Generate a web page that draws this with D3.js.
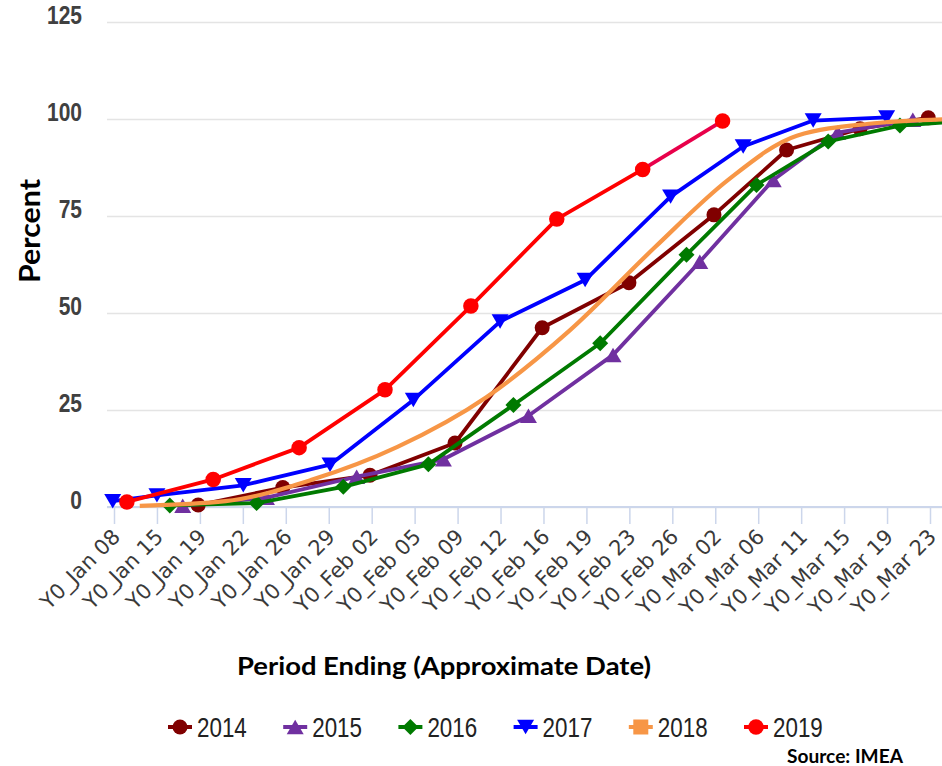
<!DOCTYPE html>
<html><head><meta charset="utf-8">
<script src="https://cdn.jsdelivr.net/npm/d3@7"></script>
<style>body{margin:0;background:#fff}svg{display:block}</style>
</head><body>
<svg id="c" width="942" height="766"></svg>
<script>
// ---------- data ----------
const categories = ["Y0_Jan 08","Y0_Jan 15","Y0_Jan 19","Y0_Jan 22","Y0_Jan 26","Y0_Jan 29",
  "Y0_Feb 02","Y0_Feb 05","Y0_Feb 09","Y0_Feb 12","Y0_Feb 16","Y0_Feb 19","Y0_Feb 23",
  "Y0_Feb 26","Y0_Mar 02","Y0_Mar 06","Y0_Mar 11","Y0_Mar 15","Y0_Mar 19","Y0_Mar 23"];
const yTicks = [0, 25, 50, 75, 100, 125];
const years = ["2014","2015","2016","2017","2018","2019"];

// x positions are in category-slot units (0 = first label)
const x2014 = [1.96, 3.93, 5.96, 7.94, 9.97, 11.99, 13.97, 15.66, 17.37, 18.96];
const v2014 = [0.5, 5.0, 8.2, 16.5, 46.2, 57.8, 75.3, 92.0, 97.5, 100.3];
const x2015 = [1.6, 3.55, 5.65, 7.67, 9.65, 11.62, 13.64, 15.35, 16.85, 18.6];
const v2015 = [0.3, 2.4, 7.8, 12.3, 23.5, 39.2, 63.2, 84.3, 96.5, 99.8];
const x2016 = [1.3, 3.32, 5.34, 7.32, 9.3, 11.32, 13.33, 14.96, 16.63, 18.3, 19.97];
const v2016 = [0.4, 1.0, 5.2, 11.0, 26.3, 42.2, 65.0, 83.0, 94.2, 98.3, 99.6];
const x2017 = [-0.03, 1.0, 3.01, 5.03, 6.97, 8.99, 10.97, 12.96, 14.65, 16.28, 17.99];
const v2017 = [1.5, 3.0, 5.6, 10.9, 27.6, 47.8, 58.5, 80.0, 92.9, 99.6, 100.4];
const x2018 = [0.6, 2.6, 4.6, 6.6, 8.67, 10.6, 12.6, 14.3, 15.9, 17.7, 19.5];
const v2018 = [0.3, 1.5, 7.0, 15.5, 28.3, 45.4, 67.0, 84.3, 95.7, 98.9, 100.0];
const x2019 = [0.3, 2.31, 4.31, 6.31, 8.31, 10.31, 12.31, 14.17];
const v2019 = [1.3, 7.1, 15.3, 30.2, 51.8, 74.2, 87.0, 99.5];

const seriesX = [x2014, x2015, x2016, x2017, x2018, x2019];
const seriesV = [v2014, v2015, v2016, v2017, v2018, v2019];
const colors = ["#800000", "#7030a0", "#007a00", "#0000ff", "#f79646", "#ff0000"];
const zoneColor = "#e8004a";

// ---------- symbols (centred on bounding box) ----------
const circle = {draw(c, s){ const r = Math.sqrt(s)/2; c.moveTo(r,0); c.arc(0,0,r,0,2*Math.PI); }};
const triUp = {draw(c, s){ const w = Math.sqrt(s)/2, h = w*0.85; c.moveTo(0,-h); c.lineTo(w,h); c.lineTo(-w,h); c.closePath(); }};
const triDown = {draw(c, s){ const w = Math.sqrt(s)/2, h = w*0.85; c.moveTo(-w,-h); c.lineTo(w,-h); c.lineTo(0,h); c.closePath(); }};
const diamond = {draw(c, s){ const w = Math.sqrt(s)/2; c.moveTo(0,-w); c.lineTo(w,0); c.lineTo(0,w); c.lineTo(-w,0); c.closePath(); }};
const square = {draw(c, s){ const w = Math.sqrt(s)/2; c.rect(-w,-w,2*w,2*w); }};
const symbols = [circle, triUp, diamond, triDown, square, circle];
const symSize = [15*15, 17*17, 16*16, 17*17, 13*13, 15.5*15.5];
const showMarkers = [true, true, true, true, false, true];

// ---------- scales ----------
const svg = d3.select("#c");
const W = 942, plotL = 107, plotB = 507;
const x = d3.scaleLinear().domain([0, 19]).range([114, 930]);
const y = d3.scaleLinear().domain([0, 125]).range([507, 22]);

// ---------- grid / y axis ----------
const yScaleX = 0.84;
const yAxis = svg.append("g").attr("transform", `translate(${plotL},0)`)
  .call(d3.axisLeft(y).tickValues(yTicks).tickSize(-(W - plotL)).tickPadding(0));
yAxis.select(".domain").remove();
yAxis.selectAll(".tick line").attr("stroke", "#e4e4e4").attr("stroke-width", 1.6);
yAxis.selectAll(".tick text")
  .attr("font-family", "'Liberation Sans', Arial, sans-serif")
  .attr("font-weight", "bold").attr("font-size", 25).attr("fill", "#404040")
  .attr("dy", null).attr("x", 0).attr("y", 0).attr("dominant-baseline", "middle")
  .attr("transform", `translate(-25,-5) scale(${yScaleX},1)`);

// ---------- x axis ----------
const xAxis = svg.append("g").attr("transform", `translate(0,${plotB})`)
  .call(d3.axisBottom(x).tickValues(d3.range(categories.length))
        .tickFormat(i => categories[i]).tickSize(17).tickSizeOuter(0));
xAxis.select(".domain").remove();
xAxis.append("line").attr("x1", plotL).attr("x2", W).attr("y1", 0).attr("y2", 0)
  .attr("stroke", "#ccd6eb").attr("stroke-width", 2);
xAxis.selectAll(".tick line").attr("stroke", "#ccd6eb").attr("stroke-width", 1.5);
xAxis.selectAll(".tick text")
  .attr("font-family", "'DejaVu Sans', Verdana, sans-serif").attr("font-size", 21)
  .attr("fill", "#3a3a3a").attr("text-anchor", "end")
  .attr("y", null).attr("dy", null)
  .attr("transform", "translate(7,31) rotate(-45)");

// ---------- lines ----------
const line = d3.line().x(d => x(d[0])).y(d => y(d[1]));
const spline = d3.line().x(d => x(d[0])).y(d => y(d[1])).curve(d3.curveMonotoneX);
const plot = svg.append("g");

seriesX.forEach((xs, si) => {
  const pts = xs.map((v, i) => [v, seriesV[si][i]]);
  const g = plot.append("g");
  if (si === 5) {
    g.append("path").datum(pts.slice(0, pts.length - 1)).attr("d", line)
      .attr("fill", "none").attr("stroke", colors[si]).attr("stroke-width", 3.8)
      .attr("stroke-linejoin", "round");
    g.append("path").datum(pts.slice(pts.length - 2)).attr("d", line)
      .attr("fill", "none").attr("stroke", zoneColor).attr("stroke-width", 3.8);
  } else {
    g.append("path").datum(pts).attr("d", si === 4 ? spline : line)
      .attr("fill", "none").attr("stroke", colors[si]).attr("stroke-width", si === 4 ? 4.2 : 3.8)
      .attr("stroke-linejoin", "round");
  }
  if (showMarkers[si]) {
    g.selectAll("path.m").data(pts).join("path").attr("class", "m")
      .attr("transform", d => `translate(${x(d[0])},${y(d[1])})`)
      .attr("d", d3.symbol(symbols[si], symSize[si]))
      .attr("fill", colors[si]);
  }
});

// ---------- titles ----------
svg.append("text").attr("transform", "translate(40,231) rotate(-90)")
  .attr("text-anchor", "middle").attr("font-family", "Lato, 'Open Sans', sans-serif")
  .attr("font-weight", "bold").attr("font-size", 28).attr("fill", "#000")
  .attr("textLength", 104).attr("lengthAdjust", "spacingAndGlyphs").text("Percent");
svg.append("text").attr("x", 444).attr("y", 675)
  .attr("text-anchor", "middle").attr("font-family", "Lato, 'Open Sans', sans-serif")
  .attr("font-weight", "bold").attr("font-size", 24).attr("fill", "#000")
  .attr("textLength", 414).attr("lengthAdjust", "spacingAndGlyphs")
  .text("Period Ending (Approximate Date)");
svg.append("text").attr("x", 787).attr("y", 763)
  .attr("font-family", "Lato, 'Open Sans', sans-serif")
  .attr("font-weight", "bold").attr("font-size", 19).attr("fill", "#000")
  .attr("textLength", 116).attr("lengthAdjust", "spacingAndGlyphs")
  .text("Source: IMEA");

// ---------- legend ----------
const legend = svg.append("g");
years.forEach((yr, i) => {
  const cx = 180 + i * 115.2, cy = 727;
  const g = legend.append("g").attr("transform", `translate(${cx},${cy})`);
  g.append("line").attr("x1", -12).attr("x2", 12).attr("stroke", colors[i]).attr("stroke-width", 4);
  g.append("path").attr("d", d3.symbol(symbols[i], i === 4 ? 15 * 15 : symSize[i]))
    .attr("fill", colors[i]);
  g.append("text").attr("x", 0).attr("y", 0).attr("dominant-baseline", "central")
    .attr("transform", "translate(17,0) scale(0.8,1)")
    .attr("font-family", "'Liberation Sans', Arial, sans-serif")
    .attr("font-size", 28).attr("fill", "#222").text(yr);
});
</script>
</body></html>
